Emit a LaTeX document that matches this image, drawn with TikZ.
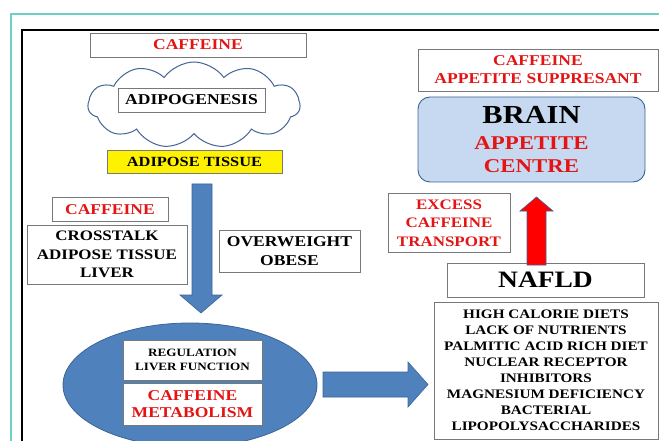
\documentclass[tikz,border=0pt]{standalone}
\usepackage{fontspec}
\setmainfont{Liberation Serif}[FakeStretch=1.17]
\usetikzlibrary{shapes.symbols,shapes.geometric}
\definecolor{tealline}{RGB}{110,208,196}
\definecolor{boxgray}{RGB}{120,120,120}
\definecolor{txtred}{RGB}{228,20,20}
\definecolor{arrowblue}{RGB}{79,129,189}
\definecolor{arrowedge}{RGB}{60,100,150}
\definecolor{brainfill}{RGB}{198,217,240}
\definecolor{cloudedge}{RGB}{70,100,150}
\tikzset{
  x=1pt,y=-1pt,
  lbox/.style={draw=boxgray,line width=0.9pt,fill=white,inner sep=1pt,align=center,font=\bfseries\fontsize{15}{18.3}\selectfont},
  redtxt/.style={text=txtred},
  blockarrow/.style={fill=arrowblue,draw=arrowedge,line width=0.6pt}
}
\begin{document}
\begin{tikzpicture}
\useasboundingbox (0,0) rectangle (659,441);
\fill[white] (0,0) rectangle (659,441);
\draw[tealline,line width=1.6pt] (11,441) -- (11,14) -- (659,14);
\draw[black,line width=2pt] (22,441) -- (22,30) -- (659,30);

% left column
\node[lbox,redtxt,minimum width=216,minimum height=24] (caftop) at (198,45) {CAFFEINE};
\node[cloud,cloud puffs=11,cloud puff arc=110,aspect=2.4,draw=cloudedge,line width=1pt,fill=white,minimum width=212,minimum height=86] (cloud) at (194,105) {};
\node[lbox,minimum width=147,minimum height=24] (adipo) at (191.5,100) {ADIPOGENESIS};
\node[lbox,fill=yellow,minimum width=175,minimum height=23,font=\bfseries\fontsize{14}{16}\selectfont] (adipose) at (194.5,161.5) {ADIPOSE TISSUE};
\node[lbox,redtxt,minimum width=116,minimum height=24] (caf2) at (110,209.5) {CAFFEINE};
\node[lbox,minimum width=160,minimum height=59,font=\bfseries\fontsize{14.5}{18.5}\selectfont] (cross) at (107,254.5) {CROSSTALK\\ADIPOSE TISSUE\\LIVER};
\node[lbox,minimum width=141,minimum height=42] (over) at (289.5,251) {OVERWEIGHT\\OBESE};

% down arrow
\filldraw[blockarrow] (192,184) -- (212,184) -- (212,295) -- (222,295) -- (201,313) -- (180,295) -- (192,295) -- cycle;

% liver ellipse
\node[ellipse,fill=arrowblue,draw=arrowedge,line width=0.8pt,minimum width=254,minimum height=124] (liver) at (190,385) {};
\node[lbox,minimum width=139,minimum height=40,font=\bfseries\fontsize{11.2}{14.3}\selectfont] (reg) at (192.5,360) {REGULATION\\LIVER FUNCTION};
\node[lbox,redtxt,minimum width=139,minimum height=42,font=\bfseries\fontsize{15}{16.7}\selectfont] (metab) at (192.5,404) {CAFFEINE\\METABOLISM};

% right arrow
\filldraw[blockarrow] (323,372) -- (408,372) -- (408,362) -- (428,384.5) -- (408,407) -- (408,397) -- (323,397) -- cycle;

% right column
\node[lbox,redtxt,minimum width=240,minimum height=42,font=\bfseries\fontsize{15}{18}\selectfont] (supp) at (538,70) {CAFFEINE\\APPETITE SUPPRESANT};
\node[draw=arrowedge,line width=0.9pt,fill=brainfill,rounded corners=12pt,minimum width=227,minimum height=85,align=center,inner sep=1pt,font=\bfseries\fontsize{19.5}{23}\selectfont] (brain) at (531.5,139.5) {{\fontsize{26}{26}\selectfont BRAIN}\\[3pt]{\color{txtred}APPETITE}\\{\color{txtred}CENTRE}};
\node[lbox,redtxt,minimum width=122,minimum height=59,font=\bfseries\fontsize{14.5}{18.3}\selectfont] (excess) at (449,223) {EXCESS\\CAFFEINE\\TRANSPORT};
\node[lbox,minimum width=197,minimum height=34,font=\bfseries\fontsize{23.5}{25}\selectfont] (nafld) at (545.5,280) {NAFLD};
\node[lbox,minimum width=224,minimum height=137,font=\bfseries\fontsize{13}{16}\selectfont] (list) at (546,370.5) {HIGH CALORIE DIETS\\LACK OF NUTRIENTS\\PALMITIC ACID RICH DIET\\NUCLEAR RECEPTOR\\INHIBITORS\\MAGNESIUM DEFICIENCY\\BACTERIAL\\LIPOPOLYSACCHARIDES};

% red up arrow
\filldraw[fill=red,draw=arrowedge,line width=0.6pt] (527,265) -- (527,211) -- (520,211) -- (536.5,197) -- (553,211) -- (546,211) -- (546,265) -- cycle;
\end{tikzpicture}
\end{document}
